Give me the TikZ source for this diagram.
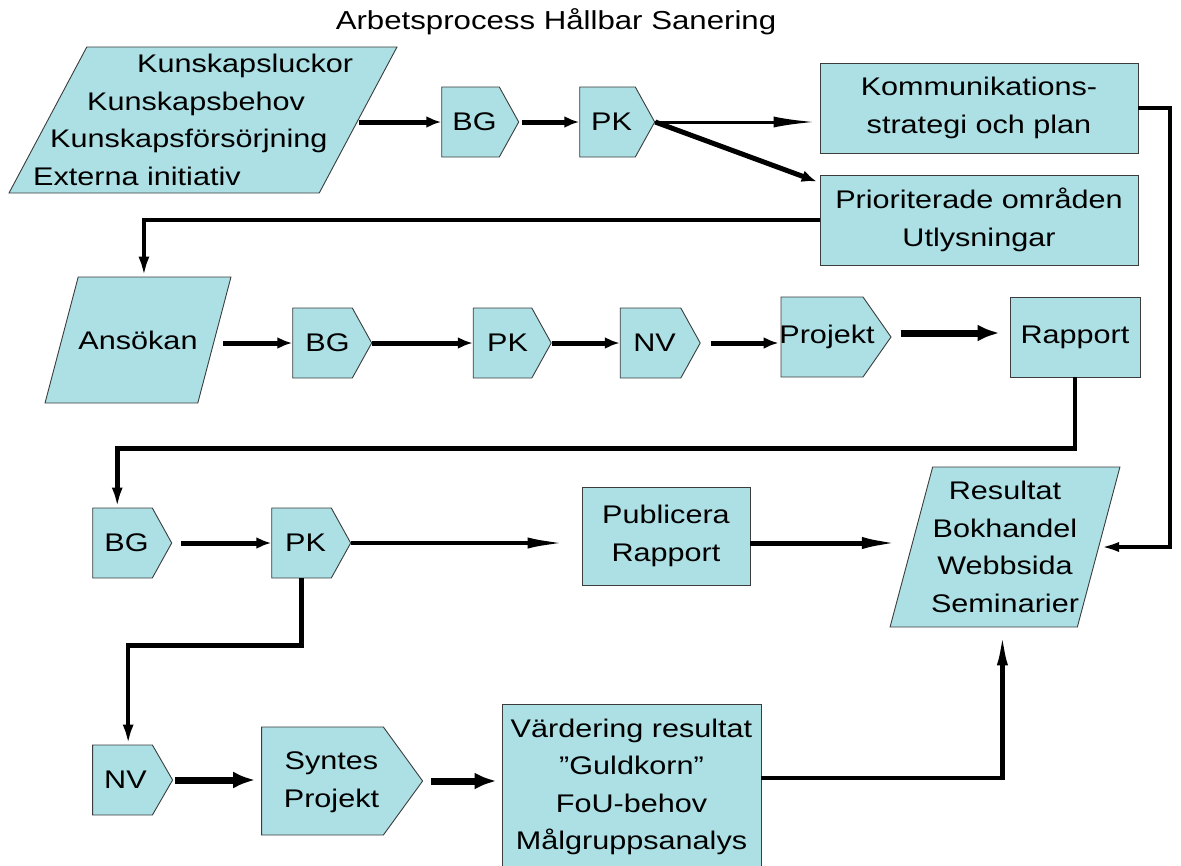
\documentclass[tikz,border=0pt]{standalone}
\usepackage{fontspec}
\setmainfont[FakeStretch=1.2]{Liberation Sans}
\usetikzlibrary{shapes.geometric,shapes.symbols,arrows.meta,calc}

\definecolor{boxfill}{RGB}{172,224,228}
\definecolor{boxline}{RGB}{60,60,60}
\newcommand{\fs}{\fontsize{25.5pt}{37.5pt}\selectfont}
\newcommand{\ttl}{\fontsize{26pt}{30pt}\selectfont}
\newcommand{\nudge}[2][4pt]{\hspace*{#1}#2\hspace*{-#1}}

\tikzset{
  base/.style={draw=boxline, line width=0.9pt, fill=boxfill, inner sep=0pt, font=\fs},
  box/.style={base, rectangle, align=center},
  tag/.style={base, signal, signal to=east, signal pointer angle=#1},
  tag/.default=122,
  para/.style={base, trapezium, trapezium stretches=true, inner sep=5pt},
  txt/.style={font=\fs, inner sep=0pt},
  flow/.style={line width=5pt, -{Latex[length=15pt,width=12pt]}},
  thinflow/.style={line width=#1, -{Latex[length=42pt,width=11pt]}},
  fatflow/.style={line width=7pt, -{Latex[length=22pt,width=17pt]}},
  elbow/.style={line width=4.5pt, -{Latex[length=20pt,width=11pt]}},
}

\begin{document}
\begin{tikzpicture}[x=1pt,y=-1pt]
\useasboundingbox (0,0) rectangle (1181,865);

\node[font=\ttl] (title) at (556,22) {Arbetsprocess Hållbar Sanering};

% rad 1
\node[para, trapezium left angle=71.5, trapezium right angle=108.5,
      minimum width=388pt, minimum height=146pt] (in1) at (203,120) {};
\node[txt, align=left, anchor=west] (in1t) at ([xshift=-170pt]in1.center)
  {\hspace*{104pt}Kunskapsluckor\\\hspace*{54pt}Kunskapsbehov\\
   \hspace*{17pt}Kunskapsförsörjning\\Externa initiativ};
\node[tag, minimum width=77pt, minimum height=70pt] (bg1) at (470.5,122) {\nudge{BG}};
\node[tag, minimum width=75pt, minimum height=70pt] (pk1) at (607.5,122) {\nudge{PK}};
\node[box, minimum width=318pt, minimum height=90pt] (komm) at (979,108)
  {Kommunikations-\\strategi och plan};
\node[box, minimum width=318pt, minimum height=90pt] (prior) at (979,220)
  {Prioriterade områden\\Utlysningar};

% rad 2
\node[para, trapezium left angle=74.5, trapezium right angle=105.5,
      minimum width=186pt, minimum height=126pt] (ans) at (138,340) {};
\node[txt] (anst) at (ans.center) {Ansökan};
\node[tag, minimum width=79pt, minimum height=70pt] (bg2) at (322.5,343) {\nudge[5pt]{BG}};
\node[tag, minimum width=78pt, minimum height=70pt] (pk2) at (502.5,343) {\nudge[5pt]{PK}};
\node[tag, minimum width=80pt, minimum height=70pt] (nv2) at (650.5,343) {\nudge{NV}};
\node[tag=110, minimum width=110pt, minimum height=80pt] (proj) at (822,337)
  {\makebox[80pt]{\hspace*{10pt}Projekt}};
\node[box, minimum width=130pt, minimum height=80pt] (rapport) at (1075,337) {Rapport};

% rad 3
\node[tag, minimum width=79pt, minimum height=70pt] (bg3) at (122.5,543) {\nudge{BG}};
\node[tag, minimum width=79pt, minimum height=70pt] (pk3) at (301.5,543) {\nudge{PK}};
\node[box, minimum width=168pt, minimum height=98pt] (publ) at (666,536)
  {Publicera\\Rapport};
\node[para, trapezium left angle=73.6, trapezium right angle=106.4,
      minimum width=230pt, minimum height=160pt] (res) at (1005,547) {};
\node[txt, align=center] (rest) at (res.center)
  {Resultat\\Bokhandel\\Webbsida\\Seminarier};

% rad 4
\node[tag=120, minimum width=80pt, minimum height=70pt] (nv4) at (122.5,780) {\nudge[3pt]{NV}};
\node[tag=108, minimum width=161pt, minimum height=108pt] (syn) at (322.5,781)
  {\begin{tabular}{@{\hspace{18pt}}c@{}}Syntes\\Projekt\end{tabular}};
\node[box, minimum width=259pt, minimum height=165pt] (vard) at (631.5,787)
  {Värdering resultat\\”Guldkorn”\\FoU-behov\\Målgruppsanalys};

% pilar
\draw[flow] (in1.east |- bg1.west) -- (bg1.west);
\draw[flow, shorten <=3pt] (bg1.east) -- (pk1.west);
\draw[thinflow=3pt, shorten >=4pt] (pk1.east) -- (pk1.east -| komm.west);
\draw[flow, shorten >=3pt] (pk1.east) -- ([yshift=-8pt]prior.north west);
\draw[thinflow=4pt, -{Latex[length=20pt,width=10pt]}]
  (komm.east) -- ++(32,0) |- (res.east);
\draw[elbow] (prior.west) -| ($(ans.top left corner)!0.43!(ans.top right corner)$);

\draw[flow, shorten <=8pt] (ans.east |- bg2.west) -- (bg2.west);
\draw[flow] (bg2.east) -- (pk2.west);
\draw[flow] (pk2.east) -- (nv2.west);
\draw[flow, shorten <=10pt, shorten >=2pt] (nv2.east) -- (nv2.east -| proj.west);
\draw[fatflow, shorten <=9pt, shorten >=10pt] ([yshift=4pt]proj.east) -- ([yshift=4pt]rapport.west);
\draw[elbow] (rapport.south) -- ++(0,71) -| ([xshift=25pt]bg3.north west);

\draw[flow, shorten <=9pt] (bg3.east) -- (pk3.west);
\draw[thinflow=4.5pt, shorten >=12pt] (pk3.east) -- (pk3.east -| publ.west);
\draw[thinflow=5pt, -{Latex[length=40pt,width=12pt]}, shorten >=9pt] (publ.east |- pk3.east) -- (res.west |- pk3.east);
\draw[elbow] (pk3.south) -- ++(0,67) -| ([xshift=36pt]nv4.north west);

\draw[fatflow, shorten <=2pt, shorten >=6pt] (nv4.east) -- (nv4.east -| syn.west);
\draw[fatflow, shorten <=8pt, shorten >=5pt] (syn.east) -- (syn.east -| vard.west);
\draw[elbow, -{Latex[length=34pt,width=11pt]}, shorten >=4pt] ([yshift=9pt]vard.east) -| ($(res.bottom left corner)!0.6!(res.bottom right corner)$);
\end{tikzpicture}
\end{document}
